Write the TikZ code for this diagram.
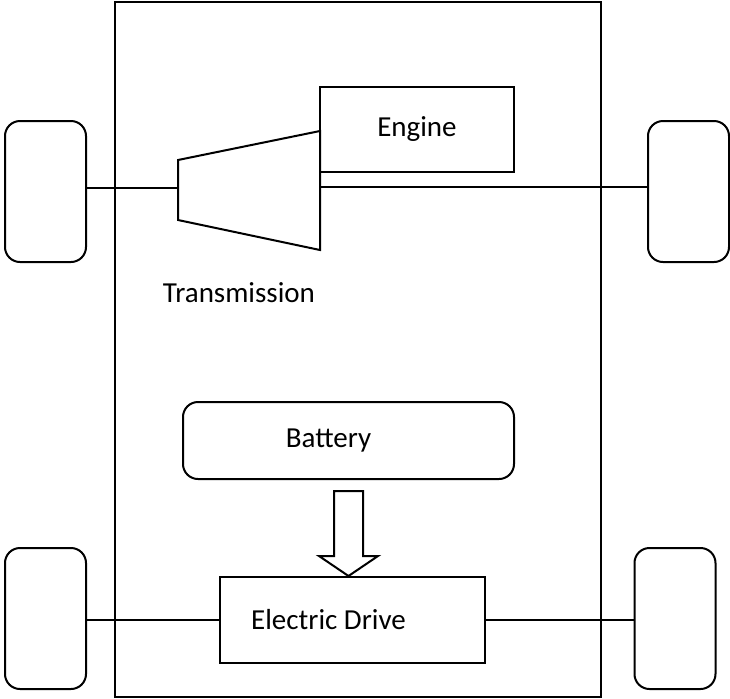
\documentclass[tikz,border=0pt]{standalone}
\usepackage{fontspec}
\setmainfont{Carlito}
\usepackage{tikz}
\usetikzlibrary{calc}

\begin{document}
\begin{tikzpicture}[
    x=0.5pt, y=-0.5pt,
    every node/.style={font=\fontsize{14.5}{17}\selectfont},
    line width=1pt,
    wheel/.style={draw, rounded corners=7.5pt, minimum width=40.5pt, minimum height=70.5pt, inner sep=0pt},
    unit/.style={draw, inner sep=0pt},
    pack/.style={draw, rounded corners=7.5pt, inner sep=0pt}
]
  \useasboundingbox (0,0) rectangle (730,698);

  % Chassis frame
  \draw (115,2) rectangle (601,697);

  % Wheels
  \node[wheel] (wfl) at (45.5,191.5) {};
  \node[wheel] (wfr) at (688.5,191.5) {};
  \node[wheel] (wrl) at (45.5,618.5) {};
  \node[wheel] (wrr) at (675,618.5) {};

  % Engine and transmission (top)
  \node[unit, minimum width=97pt, minimum height=42.5pt] (engine) at (417,129.5) {Engine};
  \coordinate (tin) at (178,188);
  \coordinate (tout) at (320,187);
  \draw (178,160) -- (320,131) -- (320,250) -- (178,220) -- cycle;
  \node (trlabel) at (239,293) {Transmission};

  % Front axle
  \draw (wfl.east |- tin) -- (tin);
  \draw (tout) -- (wfr.west |- tout);

  % Battery and electric drive (bottom)
  \node[pack, minimum width=165.5pt, minimum height=38.5pt,
        label={[xshift=-10pt]center:Battery}] (battery) at (348.5,440.5) {};
  \node[unit, minimum width=132.5pt, minimum height=43pt,
        label={[xshift=-12pt]center:Electric Drive}] (drive) at (352.5,620) {};

  % Block arrow battery -> drive
  \coordinate (tip) at (battery.south |- drive.north);
  \draw ($(tip)+(-14.5,-85)$) -- ($(tip)+(-14.5,-20)$) -- ($(tip)+(-29.5,-20)$)
    -- (tip) -- ($(tip)+(29.5,-20)$) -- ($(tip)+(14.5,-20)$) -- ($(tip)+(14.5,-85)$) -- cycle;

  % Rear axle
  \draw (wrl.east |- drive.west) -- (drive.west);
  \draw (drive.east) -- (wrr.west |- drive.east);
\end{tikzpicture}
\end{document}
